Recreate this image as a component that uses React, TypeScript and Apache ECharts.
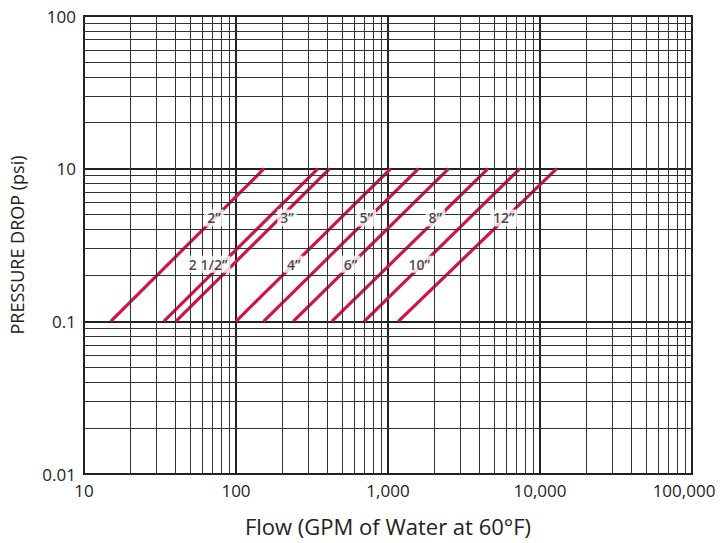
import React, { useEffect, useRef } from "react";
import * as echarts from "echarts";

// Pipe sizes and their flow at the two pressure-drop ends (0.1 psi and 10 psi)
const pipeSizes = ["2”", "2 1/2”", "3”", "4”", "5”", "6”", "8”", "10”", "12”"];
const flowAtLowDrop = [15, 33.5, 40.2, 100, 152, 238, 427, 698, 1170];
const flowAtHighDrop = [153, 346, 413, 1042, 1588, 2508, 4547, 7370, 12880];
const lowDrop = 0.1;
const highDrop = 10;

// Where each size label sits (flow, pressure drop)
const labelFlow = [71.6, 65.6, 216.6, 240, 719, 566, 2047, 1604, 5777];
const labelDrop = [2.26, 0.56, 2.26, 0.56, 2.26, 0.56, 2.26, 0.56, 2.26];

// Axis ticks
const xTicks = [10, 100, 1000, 10000, 100000];
const yTicks = [0.01, 0.1, 10, 100];
const minorMultipliers = [2, 3, 4, 5, 6, 7, 8, 9];

// The chart's pressure axis: 0.01-0.1 and 10-100 are one decade each,
// while 0.1-10 is squeezed into one visual decade.
function toVis(p: number): number {
  const l = Math.log10(p);
  let v: number;
  if (l <= -1) v = l + 1;
  else if (l <= 1) v = (l + 1) / 2;
  else v = l;
  return Math.pow(10, v + 1);
}

const yVisTicks = yTicks.map(toVis);

const RED = "#d0124e";
const FONT = "'Open Sans', 'Noto Sans', sans-serif";

export default function App() {
  const ref = useRef<HTMLDivElement>(null);
  useEffect(() => {
    if (!ref.current) return;
    const chart = echarts.init(ref.current, undefined, { renderer: "svg" });

    const xMinor: number[] = [];
    for (let d = 0; d < xTicks.length - 1; d++) {
      for (const m of minorMultipliers) xMinor.push(xTicks[d] * m);
    }
    const yMinor: number[] = [];
    for (let d = 0; d < yVisTicks.length - 1; d++) {
      for (const m of minorMultipliers) yMinor.push(yVisTicks[d] * m);
    }

    const gridSeries = {
      type: "line",
      data: [],
      silent: true,
      z: 1,
      markLine: {
        silent: true,
        symbol: ["none", "none"],
        label: { show: false },
        animation: false,
        lineStyle: { color: "#333", width: 1, type: "solid" },
        data: [
          ...xMinor.map((x) => ({ xAxis: x })),
          ...yMinor.map((y) => ({ yAxis: y })),
        ],
      },
    };

    const pipeSeries = pipeSizes.map((name, i) => ({
      type: "line",
      name,
      z: 3,
      symbol: "none",
      silent: true,
      lineStyle: { color: RED, width: 3.2 },
      data: [
        [flowAtLowDrop[i], toVis(lowDrop)],
        [flowAtHighDrop[i], toVis(highDrop)],
      ],
    }));

    const labelSeries = {
      type: "scatter",
      z: 5,
      symbolSize: 1,
      itemStyle: { color: "rgba(0,0,0,0)" },
      silent: true,
      data: pipeSizes.map((name, i) => ({
        name,
        value: [labelFlow[i], toVis(labelDrop[i])],
      })),
      label: {
        show: true,
        position: "inside",
        formatter: (p: any) => p.name,
        color: "#1a1a1a",
        fontFamily: FONT,
        fontSize: 14,
        fontWeight: 600,
        backgroundColor: "#fff",
        padding: [2, 3, 1, 3],
      },
    };

    const lastX = xTicks[xTicks.length - 1];

    chart.setOption({
      animation: false,
      backgroundColor: "#fff",
      grid: {
        left: 80,
        right: 28,
        top: 16,
        bottom: 69,
        show: true,
        borderColor: "#222",
        borderWidth: 2,
        backgroundColor: "#fff",
      },
      xAxis: {
        type: "log",
        logBase: 10,
        min: xTicks[0],
        max: lastX,
        name: "Flow (GPM of Water at 60°F)",
        nameLocation: "middle",
        nameGap: 41,
        nameTextStyle: { fontFamily: FONT, fontSize: 22, color: "#222" },
        axisLine: { show: true, lineStyle: { color: "#222", width: 2 } },
        axisTick: { show: false },
        axisLabel: {
          fontFamily: FONT,
          fontSize: 17,
          color: "#222",
          margin: 8,
          formatter: (v: number) => {
            const s = Math.round(v).toLocaleString("en-US");
            return Math.abs(v - lastX) < 1 ? "{last|" + s + "}" : s;
          },
          rich: {
            last: {
              fontFamily: FONT,
              fontSize: 17,
              color: "#222",
              padding: [0, 16, 0, 0],
            },
          },
        },
        splitLine: { show: true, lineStyle: { color: "#222", width: 2 } },
      },
      yAxis: {
        type: "log",
        logBase: 10,
        min: yVisTicks[0],
        max: yVisTicks[yVisTicks.length - 1],
        name: "PRESSURE DROP (psi)",
        nameLocation: "middle",
        nameGap: 58,
        nameTextStyle: { fontFamily: FONT, fontSize: 18, color: "#222" },
        axisLine: { show: true, lineStyle: { color: "#222", width: 2 } },
        axisTick: { show: false },
        axisLabel: {
          fontFamily: FONT,
          fontSize: 17,
          color: "#222",
          margin: 8,
          formatter: (v: number) => {
            let best = 0;
            for (let i = 0; i < yVisTicks.length; i++) {
              if (
                Math.abs(Math.log10(yVisTicks[i]) - Math.log10(v)) <
                Math.abs(Math.log10(yVisTicks[best]) - Math.log10(v))
              )
                best = i;
            }
            return String(yTicks[best]);
          },
        },
        splitLine: { show: true, lineStyle: { color: "#222", width: 2 } },
      },
      series: [gridSeries, ...pipeSeries, labelSeries],
    });

    return () => chart.dispose();
  }, []);

  return (
    <div
      ref={ref}
      style={{ position: "fixed", left: 0, top: 0, width: 720, height: 543 }}
    />
  );
}
